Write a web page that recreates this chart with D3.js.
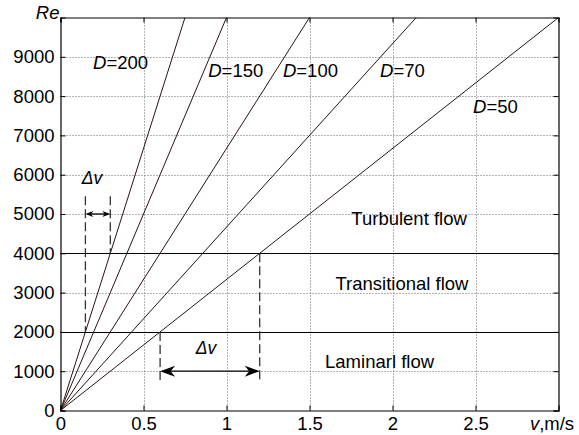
<!DOCTYPE html>
<html><head><meta charset="utf-8">
<script src="https://cdn.jsdelivr.net/npm/d3@7"></script>
<style>
html,body{margin:0;padding:0;background:#fff;}
svg{display:block;font-family:"Liberation Sans",Arial,sans-serif;}
</style></head>
<body>
<svg id="chart" width="579" height="435"></svg>
<script>
// ---- data ----
const xTicks = [0, 0.5, 1, 1.5, 2, 2.5];
const xTickLabels = ["0", "0.5", "1", "1.5", "2", "2.5"];
const yTicks = [0, 1000, 2000, 3000, 4000, 5000, 6000, 7000, 8000, 9000];
const yTickLabels = ["0","1000","2000","3000","4000","5000","6000","7000","8000","9000"];
const diameters = ["200", "150", "100", "70", "50"];
const lineEndV = [0.75, 1.0, 1.5, 2.143, 3.0];      // v where each line leaves the top
const lineEndRe = [10000, 10000, 10000, 10000, 10000];
const labelV = [0.196, 0.89, 1.34, 1.925, 2.485];    // label start v
const labelRe = [8817, 8613, 8613, 8613, 7697];      // label centre Re
const regimeLines = [2000, 4000];
const regimeNames = ["Turbulent flow", "Transitional flow", "Laminarl flow"];
const regimeV = [2.10, 2.057, 1.922];
const regimeRe = [4847, 3193, 1209];
// Δv annotations
const dvFromV = [0.15, 0.6];
const dvToV = [0.3, 1.2];
const dvArrowRe = [5000, 1000];
const dvDashTopRe = [5450, 2000];
const dvDashTopRe2 = [5450, 4000];
const dvDashBottomRe = [2000, 750];
const dvDashBottomRe2 = [4000, 750];
const dvLabelV = [0.19, 0.876];
const dvLabelRe = [5880, 1565];

// ---- layout ----
const svg = d3.select("#chart");
const x = d3.scaleLinear().domain([0, 3]).range([60.5, 558.5]);
const y = d3.scaleLinear().domain([0, 10000]).range([410.5, 17.5]);
const FS = 18.5;

// grid
const grid = svg.append("g");
grid.selectAll("line.gx").data(xTicks.slice(1)).enter().append("line")
  .attr("x1", d => Math.round(x(d)) + 0.5).attr("x2", d => Math.round(x(d)) + 0.5)
  .attr("y1", y(0)).attr("y2", y(10000))
  .attr("stroke", "#666").attr("stroke-width", 1).attr("stroke-dasharray", "1,2");
grid.selectAll("line.gy").data(yTicks.slice(1)).enter().append("line")
  .attr("y1", d => Math.round(y(d)) + 0.5).attr("y2", d => Math.round(y(d)) + 0.5)
  .attr("x1", x(0)).attr("x2", x(3))
  .attr("stroke", "#666").attr("stroke-width", 1).attr("stroke-dasharray", "1,2");

// regime boundary lines
svg.selectAll("line.reg").data(regimeLines).enter().append("line")
  .attr("x1", x(0)).attr("x2", x(3))
  .attr("y1", d => Math.round(y(d)) + 0.5).attr("y2", d => Math.round(y(d)) + 0.5)
  .attr("stroke", "#000").attr("stroke-width", 1.2);

// Re lines
svg.append("clipPath").attr("id", "clip").append("rect")
  .attr("x", x(0)).attr("y", y(10000)).attr("width", x(3) - x(0)).attr("height", y(0) - y(10000));
const lineGen = d3.line().x(d => x(d[0])).y(d => y(d[1]));
svg.append("g").attr("clip-path", "url(#clip)").selectAll("path").data(diameters).enter().append("path")
  .attr("d", (d, i) => lineGen([[0, 0], [lineEndV[i], lineEndRe[i]]]))
  .attr("fill", "none").attr("stroke", "#2a1212").attr("stroke-width", 1);

// axes box
const axX = d3.axisBottom(x).tickValues(xTicks).tickFormat((d, i) => xTickLabels[i]).tickSize(-5).tickPadding(6);
const axY = d3.axisLeft(y).tickValues(yTicks).tickFormat((d, i) => yTickLabels[i]).tickSize(-5).tickPadding(6);
const gx = svg.append("g").attr("transform", `translate(0,${y(0)})`).call(axX);
const gy = svg.append("g").attr("transform", `translate(${x(0)},0)`).call(axY);
const gxt = svg.append("g").attr("transform", `translate(0,${y(10000)})`).call(d3.axisTop(x).tickValues(xTicks).tickSize(-5).tickFormat(""));
const gyr = svg.append("g").attr("transform", `translate(${x(3)},0)`).call(d3.axisRight(y).tickValues(yTicks).tickSize(-5).tickFormat(""));
[gx, gy, gxt, gyr].forEach(g => {
  g.select(".domain").attr("stroke", "#000").attr("stroke-width", 1.2);
  g.selectAll(".tick line").attr("stroke", "#000");
  g.selectAll("text").attr("font-size", FS).attr("fill", "#000").attr("font-family", "Liberation Sans, Arial, sans-serif");
});
gx.selectAll(".tick text").attr("dy", "0.71em");

// axis end labels
svg.append("text").attr("x", x(0) - 1).attr("y", y(10000) - 3)
  .attr("text-anchor", "end").attr("dominant-baseline", "middle")
  .attr("font-size", FS).attr("font-style", "italic").text("Re");
const vl = svg.append("text").attr("x", 552).attr("y", 430).attr("text-anchor", "middle").attr("font-size", FS);
vl.append("tspan").attr("font-style", "italic").text("v");
vl.append("tspan").text(",m/s");

// D labels
svg.selectAll("text.dl").data(diameters).enter().append("text")
  .attr("x", (d, i) => x(labelV[i])).attr("y", (d, i) => y(labelRe[i]))
  .attr("dominant-baseline", "middle").attr("font-size", FS)
  .each(function (d) {
    d3.select(this).append("tspan").attr("font-style", "italic").text("D");
    d3.select(this).append("tspan").text("=" + d);
  });

// regime labels
svg.selectAll("text.rl").data(regimeNames).enter().append("text")
  .attr("x", (d, i) => x(regimeV[i])).attr("y", (d, i) => y(regimeRe[i]))
  .attr("text-anchor", "middle").attr("dominant-baseline", "middle")
  .attr("font-size", FS).text(d => d);

// Δv annotations
const headL = [8, 15], headW = [3, 5.5];
dvFromV.forEach((v1, i) => {
  const v2 = dvToV[i];
  const g = svg.append("g");
  [[v1, dvDashTopRe[i], dvDashBottomRe[i]], [v2, dvDashTopRe2[i], dvDashBottomRe2[i]]].forEach(s => {
    g.append("line").attr("x1", x(s[0])).attr("x2", x(s[0]))
      .attr("y1", y(s[1])).attr("y2", y(s[2]))
      .attr("stroke", "#333").attr("stroke-width", 1.3).attr("stroke-dasharray", "9,4");
  });
  const ya = y(dvArrowRe[i]);
  const xa = x(v1), xb = x(v2);
  const L = headL[i], W = headW[i];
  g.append("line").attr("x1", xa + 3).attr("x2", xb - 3).attr("y1", ya).attr("y2", ya)
    .attr("stroke", "#000").attr("stroke-width", 1.3);
  const head = (tip, dir) => {
    const p = d3.path();
    p.moveTo(tip, ya);
    p.lineTo(tip + dir * L, ya - W);
    p.lineTo(tip + dir * L * 0.7, ya);
    p.lineTo(tip + dir * L, ya + W);
    p.closePath();
    return p.toString();
  };
  g.append("path").attr("d", head(xa, 1)).attr("fill", "#000");
  g.append("path").attr("d", head(xb, -1)).attr("fill", "#000");
  svg.append("text").attr("x", x(dvLabelV[i])).attr("y", y(dvLabelRe[i]))
    .attr("text-anchor", "middle").attr("dominant-baseline", "middle")
    .attr("font-size", FS - 1).attr("font-style", "italic").text("Δv");
});
</script>
</body></html>
